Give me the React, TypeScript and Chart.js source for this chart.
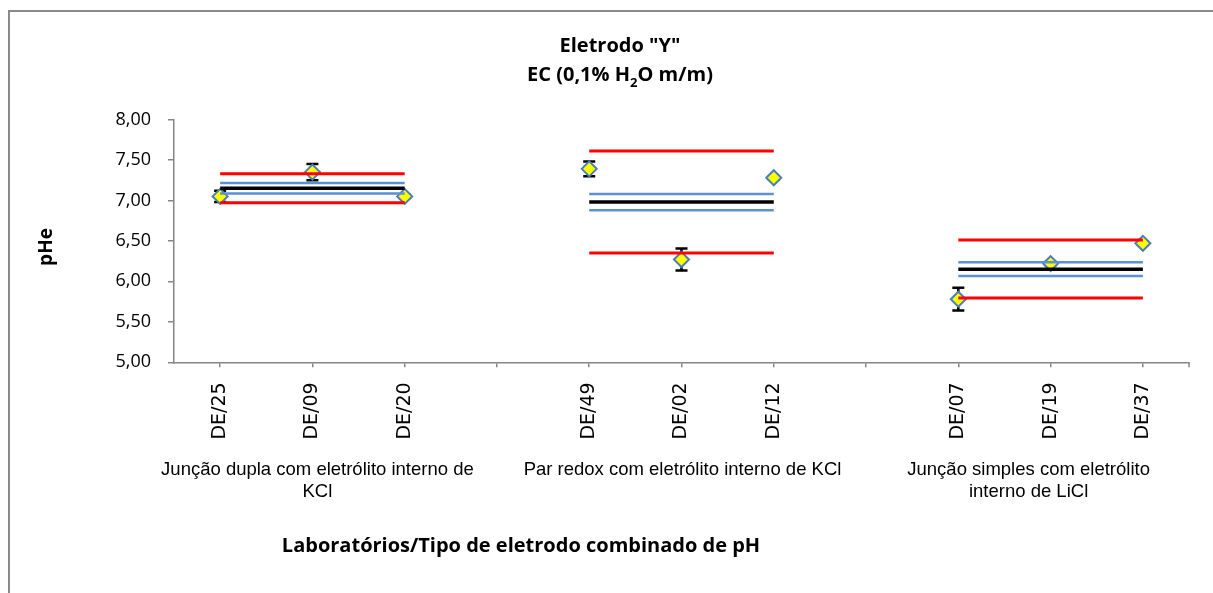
import React, { useEffect, useRef } from "react";
import { Chart, registerables } from "chart.js";

Chart.register(...registerables);

// ---- data ----
const categories = ["DE/25", "DE/09", "DE/20", "", "DE/49", "DE/02", "DE/12", "", "DE/07", "DE/19", "DE/37"];
const pheValues = [7.05, 7.35, 7.05, null, 7.39, 6.27, 7.28, null, 5.78, 6.22, 6.47];
const pheErrors = [0.07, 0.1, 0.02, null, 0.09, 0.135, 0.02, null, 0.14, 0.02, 0.02];

const groupNames = [
  ["Junção dupla com eletrólito interno de", "KCl"],
  ["Par redox com eletrólito interno de KCl"],
  ["Junção simples com eletrólito", "interno de LiCl"],
];
const groupMembers = [
  [0, 1, 2],
  [4, 5, 6],
  [8, 9, 10],
];
const groupMean = [7.15, 6.98, 6.15];
const groupBlueUpper = [7.215, 7.08, 6.235];
const groupBlueLower = [7.085, 6.88, 6.065];
const groupRedUpper = [7.33, 7.61, 6.51];
const groupRedLower = [6.97, 6.35, 5.795];

const yMin = 5;
const yMax = 8;
const yStep = 0.5;

const titleLine1 = 'Eletrodo "Y"';
const titleLine2 = ["EC (0,1% H", "2", "O m/m)"];
const yTitle = "pHe";
const xTitle = "Laboratórios/Tipo de eletrodo combinado de pH";

function spread(vals: number[]) {
  return categories.map((_, i) => {
    const g = groupMembers.findIndex((m) => m.includes(i));
    return g < 0 ? null : vals[g];
  });
}

const TITLE_FONT = '"Open Sans", "DejaVu Sans", sans-serif';
const GROUP_FONT = '"Liberation Sans", Arial, sans-serif';

const overlay = {
  id: "overlay",
  beforeDatasetsDraw(chart: any) {
    const { ctx } = chart;
    const xs = chart.scales.x;
    const ys = chart.scales.y;
    ctx.save();
    ctx.strokeStyle = "#000";
    ctx.lineWidth = 2.5;
    pheValues.forEach((v, i) => {
      const e = pheErrors[i];
      if (v == null || e == null) return;
      const x = xs.getPixelForValue(i);
      const yt = ys.getPixelForValue(v + e);
      const yb = ys.getPixelForValue(v - e);
      ctx.beginPath();
      ctx.moveTo(x, yt);
      ctx.lineTo(x, yb);
      ctx.moveTo(x - 6, yt);
      ctx.lineTo(x + 6, yt);
      ctx.moveTo(x - 6, yb);
      ctx.lineTo(x + 6, yb);
      ctx.stroke();
    });
    ctx.restore();
  },
  afterDraw(chart: any) {
    const { ctx, chartArea } = chart;
    const xs = chart.scales.x;
    ctx.save();
    // outer frame
    ctx.fillStyle = "#8a8a8a";
    ctx.fillRect(8, 10, 2, 600);
    ctx.fillRect(8, 10, 1300, 2);

    // end tick of x axis
    ctx.strokeStyle = "#868686";
    ctx.lineWidth = 1.5;
    ctx.beginPath();
    ctx.moveTo(chartArea.right, chartArea.bottom);
    ctx.lineTo(chartArea.right, chartArea.bottom + 5);
    ctx.stroke();

    ctx.fillStyle = "#000";
    // title
    ctx.textBaseline = "alphabetic";
    ctx.textAlign = "center";
    const big = `bold 20px ${TITLE_FONT}`;
    const small = `bold 13px ${TITLE_FONT}`;
    ctx.font = big;
    ctx.fillText(titleLine1, 620, 52);
    const w0 = ctx.measureText(titleLine2[0]).width;
    const w2 = ctx.measureText(titleLine2[2]).width;
    ctx.font = small;
    const w1 = ctx.measureText(titleLine2[1]).width;
    const x0 = 620 - (w0 + w1 + w2) / 2;
    ctx.textAlign = "left";
    ctx.font = big;
    ctx.fillText(titleLine2[0], x0, 81);
    ctx.font = small;
    ctx.fillText(titleLine2[1], x0 + w0, 87);
    ctx.font = big;
    ctx.fillText(titleLine2[2], x0 + w0 + w1, 81);

    // y title
    ctx.save();
    ctx.translate(52, 247);
    ctx.rotate(-Math.PI / 2);
    ctx.textAlign = "center";
    ctx.font = `bold 19px ${TITLE_FONT}`;
    ctx.fillText(yTitle, 0, 0);
    ctx.restore();

    // group labels
    const shifts = [5, 1, -22];
    ctx.textAlign = "center";
    ctx.font = `18.5px ${GROUP_FONT}`;
    groupNames.forEach((lines, g) => {
      const mid = groupMembers[g][1];
      const cx = xs.getPixelForValue(mid) + shifts[g];
      lines.forEach((t, k) => ctx.fillText(t, cx, 475 + k * 22));
    });

    // x title
    ctx.font = `bold 20px ${TITLE_FONT}`;
    ctx.fillText(xTitle, 521, 552);
    ctx.restore();
  },
};

export default function App() {
  const ref = useRef<HTMLCanvasElement | null>(null);
  useEffect(() => {
    if (!ref.current) return;
    const lineDs = (vals: number[], color: string, width: number) => ({
      type: "line" as const,
      data: spread(vals),
      borderColor: color,
      borderWidth: width,
      pointRadius: 0,
      pointHoverRadius: 0,
      spanGaps: false,
      fill: false,
      order: 0,
    });
    const chart = new Chart(ref.current, {
      type: "line",
      data: {
        labels: categories,
        datasets: [
          lineDs(groupRedUpper, "#ff0000", 3),
          lineDs(groupRedLower, "#ff0000", 3),
          lineDs(groupBlueUpper, "#5b8fd6", 2.5),
          lineDs(groupBlueLower, "#5b8fd6", 2.5),
          lineDs(groupMean, "#000000", 3.5),
          {
            type: "line" as const,
            data: pheValues,
            showLine: false,
            pointStyle: "rectRot",
            pointRadius: 7.5,
            pointBorderWidth: 2,
            pointBackgroundColor: "#ffff00",
            pointBorderColor: "#4a7ebb",
            order: 1,
          },
        ],
      },
      options: {
        animation: false,
        responsive: true,
        maintainAspectRatio: false,
        layout: { padding: { top: 119.5, left: 0, right: 24, bottom: 0 } },
        plugins: { legend: { display: false }, tooltip: { enabled: false }, title: { display: false } },
        scales: {
          x: {
            type: "category",
            offset: true,
            grid: { offset: false, drawOnChartArea: false, drawTicks: true, tickLength: 5, color: "#868686", lineWidth: 1.5 },
            border: { color: "#868686", width: 1.5 },
            ticks: {
              autoSkip: false,
              minRotation: 90,
              maxRotation: 90,
              padding: 15,
              color: "#000",
              font: { family: '"DejaVu Sans", Verdana, sans-serif', size: 19 },
            },
            afterFit: (s: any) => {
              s.height = 593 - 362.3;
            },
          },
          y: {
            min: yMin,
            max: yMax,
            grid: { drawOnChartArea: false, drawTicks: true, tickLength: 6, color: "#868686", lineWidth: 1.5 },
            border: { color: "#868686", width: 1.5 },
            ticks: {
              stepSize: yStep,
              padding: 17,
              color: "#000",
              font: { family: '"Open Sans", sans-serif', size: 18 },
              callback: (v: any) => Number(v).toFixed(2).replace(".", ","),
            },
            afterFit: (s: any) => {
              s.width = 174;
            },
          },
        },
      },
      plugins: [overlay],
    });
    return () => chart.destroy();
  }, []);
  return (
    <div style={{ position: "fixed", left: 0, top: 0, width: 1213, height: 593, background: "#fff" }}>
      <canvas ref={ref} />
    </div>
  );
}
